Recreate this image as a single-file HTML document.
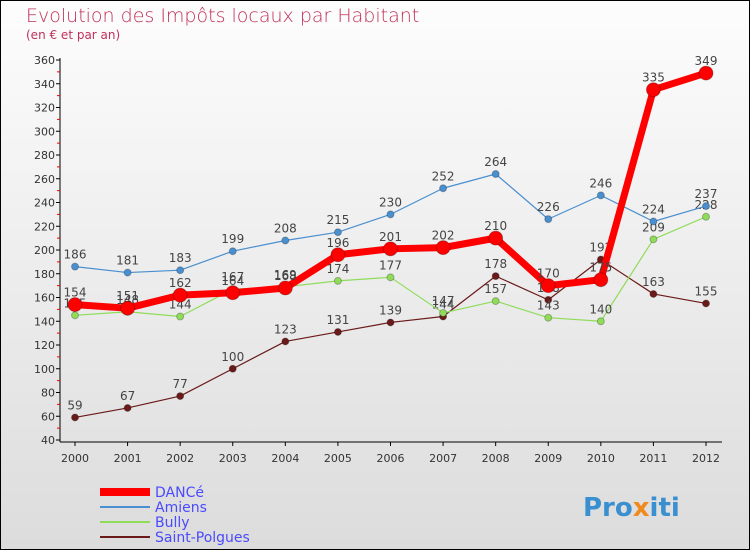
<!DOCTYPE html>
<html><head><meta charset="utf-8"><style>
body{margin:0;}
#c{width:750px;height:550px;position:relative;overflow:hidden;font-family:"DejaVu Sans","Liberation Sans",sans-serif;}
</style></head><body>
<div id="c">
<svg id="s" width="750" height="550" xmlns="http://www.w3.org/2000/svg">
<defs><linearGradient id="bg" x1="0" y1="0" x2="0" y2="1"><stop offset="0" stop-color="#fdfdfd"/><stop offset="1" stop-color="#dcdcdc"/></linearGradient></defs>
<rect x="0.5" y="0.5" width="749" height="549" fill="url(#bg)" stroke="#000"/>
<text x="26" y="22" font-size="19" fill="#c0305a" font-weight="200">Evolution des Impôts locaux par Habitant</text>
<text x="26" y="39" font-size="12" fill="#c0305a">(en € et par an)</text>
<g id="axes"></g><g id="series"></g><g id="legend"></g>
<g font-size="26" font-weight="bold">
<text x="583" y="516" fill="#3a8fd0">Pro<tspan fill="#f08a20">x</tspan><tspan fill="#3a8fd0">iti</tspan></text>
</g>
</svg>
</div>
<script>
const years=["2000","2001","2002","2003","2004","2005","2006","2007","2008","2009","2010","2011","2012"];
const yTicks=[40,60,80,100,120,140,160,180,200,220,240,260,280,300,320,340,360];
const danceVals=[154,151,162,164,168,196,201,202,210,170,175,335,349];
const amiensVals=[186,181,183,199,208,215,230,252,264,226,246,224,237];
const bullyVals=[145,148,144,167,169,174,177,147,157,143,140,209,228];
const polguesVals=[59,67,77,100,123,131,139,144,178,158,192,163,155];
const NS="http://www.w3.org/2000/svg";
function X(i){return 75+i*(706-75)/12;}
function Y(v){return 440-(v-40)*380/320;}
function mk(tag,attrs,parent){const e=document.createElementNS(NS,tag);for(const k in attrs)e.setAttribute(k,attrs[k]);parent.appendChild(e);return e;}
const axes=document.getElementById('axes');
const yl=mk('line',{x1:60,y1:58,x2:60,y2:442,stroke:'#000'},axes);


const xl=mk('line',{x1:60,y1:442,x2:722,y2:442,stroke:'#000'},axes);


yTicks.forEach((t,i)=>{
  mk('line',{x1:56,y1:Y(t),x2:60,y2:Y(t),stroke:'#000'},axes);
  if(i<yTicks.length-1) mk('line',{x1:57,y1:Y(t+10),x2:60,y2:Y(t+10),stroke:'#e00'},axes);
  const tx=mk('text',{x:55,y:Y(t)+4,'font-size':11,'text-anchor':'end',fill:'#333'},axes);
  tx.textContent=t;
  
  
});
years.forEach((y,i)=>{
  mk('line',{x1:X(i),y1:442,x2:X(i),y2:446,stroke:'#000'},axes);
  const tx=mk('text',{x:X(i),y:462,'font-size':11,'text-anchor':'middle',fill:'#333'},axes);
  tx.textContent=y;
  
  
});
const ser=document.getElementById('series');
function draw(vals,color,w,r,name,labelBelow){
  const g=mk('g',{},ser);
  
  
  const pl=mk('polyline',{points:vals.map((v,i)=>X(i)+','+Y(v)).join(' '),fill:'none',stroke:color,'stroke-width':w,'stroke-linejoin':'round'},g);
  
  
  vals.forEach((v,i)=>{
    const c=mk('circle',{cx:X(i),cy:Y(v),r:r,fill:color,stroke:'rgba(0,0,0,0.25)'},g);
    
    
    const t=mk('text',{x:X(i),y:Y(v)-8,'font-size':12,'text-anchor':'middle',fill:'#444'},g);
    t.textContent=v;
    
    
  });
}
draw(polguesVals,'#6b1a1a',1.2,3.5,'saint-polgues');
draw(bullyVals,'#8fdc5a',1.2,3.5,'bully');
draw(amiensVals,'#4a8fcf',1.2,3.5,'amiens');
draw(danceVals,'#ff0000',7,7,'dance');
const lg=document.getElementById('legend');
const items=[['DANCé','#ff0000',8],['Amiens','#4a8fcf',2],['Bully','#8fdc5a',2],['Saint-Polgues','#6b1a1a',2]];
items.forEach((it,i)=>{
  const y=492+i*15;
  const g=mk('g',{},lg);
  
  
  mk('line',{x1:100,y1:y,x2:150,y2:y,stroke:it[1],'stroke-width':it[2]},g);
  const t=mk('text',{x:155,y:y+5,'font-size':14,fill:'#4a4aff'},g);
  t.textContent=it[0];
});
</script>
</body></html>
